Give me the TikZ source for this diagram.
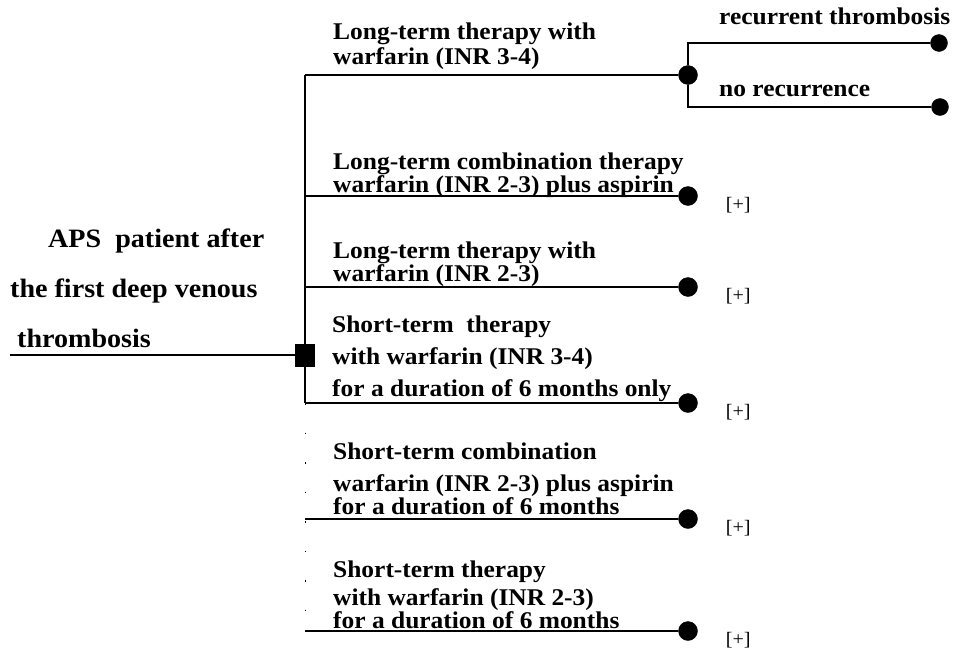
\documentclass[tikz,border=0pt]{standalone}
\usepackage{fontspec}
\setmainfont{Liberation Serif}[FakeStretch=1.06]
\usetikzlibrary{positioning}

\tikzset{
  branch/.style={line width=1.2pt},
  broken/.style={line width=0.9pt, dash pattern=on 1.5pt off 28pt},
  decision/.style={draw, fill, rectangle, minimum width=19pt, minimum height=22pt, inner sep=0pt},
  chance/.style={draw, fill, circle, minimum size=19pt, inner sep=0pt},
  outcome/.style={chance, minimum size=17pt},
  option/.style={anchor=south west, align=left, inner sep=0pt, text depth=0pt,
    font=\fontsize{24}{23}\selectfont\bfseries},
  rootlabel/.style={option, font=\fontsize{26.5}{50}\selectfont\bfseries},
  plus/.style={inner sep=0pt, font=\fontsize{19}{19}\selectfont}
}

\begin{document}
\begin{tikzpicture}[x=1pt, y=-1pt]
  \useasboundingbox (0,0) rectangle (953,653);
  % Define nodes
  \node[decision] (d) at (305,355) {};
  \coordinate (root) at (10,355);
  \node[rootlabel] (aps) at (10,348)
    {\hspace*{38pt}APS\ \ patient after\\the first deep venous\\\hspace*{7pt}thrombosis};

  \node[chance] (c1) at (688,75) {};
  \node[chance] (c2) at (688,196) {};
  \node[chance] (c3) at (688,287) {};
  \node[chance] (c4) at (688,403) {};
  \node[chance] (c5) at (688,519) {};
  \node[chance] (c6) at (688,631) {};

  \node[outcome] (o1) at (939,43) {};
  \node[outcome] (o2) at (940,107) {};
  \node[option] (rec) at (719,25) {recurrent thrombosis};
  \node[option] (norec) at (719,97) {no recurrence};

  \node[option] (t1) at (333,65) {Long-term therapy with\\[2pt]warfarin (INR 3-4)};
  \node[option] (t2) at (333,193) {Long-term combination therapy\\warfarin (INR 2-3) plus aspirin};
  \node[option] (t3) at (333,282) {Long-term therapy with\\warfarin (INR 2-3)};
  \node[option] (t4) at (332,397) {Short-term\ \ therapy\\[9pt]with warfarin (INR 3-4)\\[9pt]for a duration of 6 months only};
  \node[option] (t5) at (333,515) {Short-term combination\\[9pt]warfarin (INR 2-3) plus aspirin\\for a duration of 6 months};
  \node[option] (t6) at (333,629) {Short-term therapy\\[5pt]with warfarin (INR 2-3)\\for a duration of 6 months};

  \foreach \n in {2,...,6}
    \node[plus, right=28pt of c\n, yshift=-9pt] (p\n) {[+]};

  % Connect nodes
  \draw[branch] (root) -- (d);
  \draw[branch] (d |- c1) -- (d |- c4);
  \draw[broken] (d |- c4) -- (d |- c6);
  \foreach \n in {1,...,6}
    \draw[branch] (d |- c\n) -- (c\n);
  \draw[branch] (c1) |- (o1);
  \draw[branch] (c1) |- (o2);
\end{tikzpicture}
\end{document}
